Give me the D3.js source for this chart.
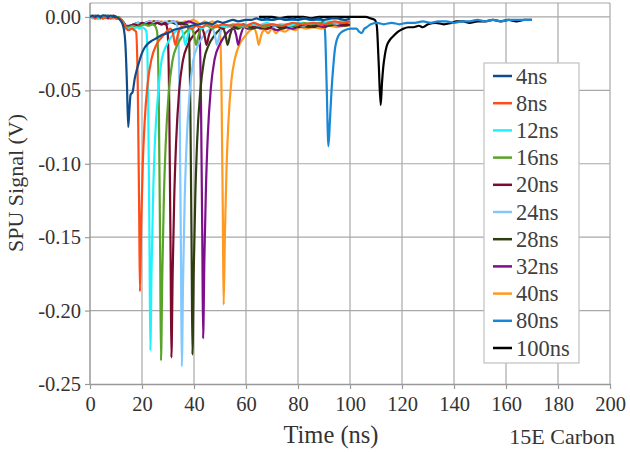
<!DOCTYPE html>
<html>
<head>
<meta charset="utf-8">
<script src="https://cdn.jsdelivr.net/npm/d3@7"></script>
<style>
  html, body { margin: 0; padding: 0; background: #fff; }
  svg { display: block; font-family: "Liberation Serif", "Times New Roman", serif; }
</style>
</head>
<body>
<svg id="chart" width="630" height="452"></svg>
<script>
// ── Data (time in ns, signal in V) ─────────────────────────────────────────
const seriesNames = ['4ns', '8ns', '12ns', '16ns', '20ns', '24ns', '28ns', '32ns', '40ns', '80ns', '100ns'];

const xTicks = [0, 20, 40, 60, 80, 100, 120, 140, 160, 180, 200];
const yTicks = [0, -0.05, -0.10, -0.15, -0.20, -0.25];

const s4 = [[0,0.000],[1,0.001],[2,0.000],[3,0.001],[4,0.000],[5,0.001],[6,0.001],[7,0.000],[8,0.001],[9,0.000],[10,0.000],[11,-0.001],[12,-0.003],[13,-0.008],[13.6,-0.018],[14.2,-0.045],[14.7,-0.075],[15.2,-0.062],[15.6,-0.053],[16.4,-0.051],[17.2,-0.042],[18,-0.036],[19,-0.030],[19.9,-0.025],[21,-0.021],[22.4,-0.018],[24,-0.016],[26,-0.014],[28,-0.012],[30,-0.011],[32,-0.009],[34,-0.008],[36.5,-0.007],[39,-0.006],[42,-0.005],[45,-0.004],[47,-0.005],[49,-0.003],[51,-0.004],[53,-0.003],[55,-0.002],[57,-0.003],[60,-0.002],[62,-0.002],[64,-0.001],[66,-0.002],[68,-0.001],[70,-0.002],[73,-0.001],[75,-0.002],[78,-0.001],[80,-0.002],[83,-0.001],[85,-0.002],[88,-0.001],[90,-0.002],[93,-0.001],[95,-0.001],[98,-0.002],[100,-0.001]];

const s8 = [[0,0.000],[1,0.000],[2,-0.001],[3,0.000],[4,0.000],[5,-0.001],[6,0.000],[7,0.000],[8,-0.001],[9,0.000],[10,-0.001],[11,-0.001],[12,-0.002],[13,-0.005],[14,-0.008],[15,-0.009],[16,-0.008],[17,-0.009],[17.7,-0.010],[18.4,-0.050],[18.9,-0.130],[19.2,-0.187],[19.7,-0.140],[20.3,-0.100],[21.0,-0.072],[22.2,-0.045],[23.6,-0.029],[25.5,-0.019],[27.5,-0.014],[29.5,-0.010],[31,-0.008],[32,-0.012],[32.8,-0.019],[33.8,-0.012],[35,-0.007],[37,-0.006],[39,-0.008],[41,-0.006],[43,-0.007],[45,-0.005],[48,-0.007],[51,-0.005],[54,-0.006],[57,-0.005],[60,-0.006],[63,-0.004],[66,-0.006],[70,-0.005],[74,-0.006],[78,-0.004],[82,-0.005],[86,-0.004],[90,-0.005],[94,-0.003],[97,-0.004],[100,-0.003]];

const s12 = [[0,0.000],[1,0.001],[2,0.000],[3,-0.001],[4,0.000],[5,0.000],[6,0.001],[7,0.000],[8,0.000],[9,-0.001],[10,0.000],[11,-0.001],[12,-0.002],[13,-0.005],[14,-0.008],[15,-0.008],[16,-0.007],[17,-0.008],[18,-0.007],[19,-0.008],[20,-0.007],[21,-0.008],[21.7,-0.010],[22.4,-0.061],[22.9,-0.159],[23.2,-0.227],[23.7,-0.170],[24.3,-0.120],[25.0,-0.084],[26.3,-0.050],[27.6,-0.029],[29.5,-0.019],[31.5,-0.013],[33.5,-0.009],[35.0,-0.008],[36.0,-0.013],[36.7,-0.019],[37.7,-0.012],[39.0,-0.007],[41,-0.006],[43,-0.008],[45,-0.005],[47,-0.007],[50,-0.006],[53,-0.007],[56,-0.005],[59,-0.006],[62,-0.005],[65,-0.006],[68,-0.004],[71,-0.006],[74,-0.005],[77,-0.006],[80,-0.004],[83,-0.005],[86,-0.004],[89,-0.005],[92,-0.003],[95,-0.004],[98,-0.003],[100,-0.004]];

const s16 = [[0,0.001],[1,0.000],[2,0.000],[3,0.001],[4,0.000],[5,-0.001],[6,0.000],[7,0.001],[8,0.000],[9,0.000],[10,-0.001],[11,0.000],[12,-0.002],[13,-0.004],[14,-0.007],[15,-0.007],[16.5,-0.006],[18,-0.007],[19.5,-0.006],[21,-0.005],[22.5,-0.006],[24,-0.005],[25.0,-0.006],[25.8,-0.010],[26.5,-0.063],[27.0,-0.164],[27.3,-0.234],[27.8,-0.176],[28.4,-0.124],[29.1,-0.087],[30.3,-0.051],[31.7,-0.030],[33.6,-0.019],[35.6,-0.013],[37.6,-0.009],[39.1,-0.008],[40.1,-0.013],[40.8,-0.019],[41.8,-0.012],[43.1,-0.007],[45,-0.006],[47,-0.008],[49,-0.006],[52,-0.007],[55,-0.005],[58,-0.007],[61,-0.006],[64,-0.005],[67,-0.007],[70,-0.005],[73,-0.006],[76,-0.005],[79,-0.006],[82,-0.004],[85,-0.005],[88,-0.004],[91,-0.005],[94,-0.004],[97,-0.003],[100,-0.004]];

const s20 = [[0,0.000],[1,0.000],[2,0.001],[3,0.000],[4,-0.001],[5,0.000],[6,0.000],[7,-0.001],[8,0.000],[9,0.001],[10,0.000],[11,-0.001],[12,-0.002],[13,-0.004],[14,-0.007],[15.5,-0.006],[17,-0.005],[18.5,-0.006],[20,-0.004],[21.5,-0.005],[23,-0.004],[24.5,-0.005],[26,-0.004],[27.5,-0.005],[29,-0.004],[29.8,-0.009],[30.5,-0.063],[31.0,-0.162],[31.3,-0.232],[31.8,-0.174],[32.4,-0.123],[33.1,-0.086],[34.3,-0.050],[35.7,-0.030],[37.6,-0.019],[39.6,-0.013],[41.6,-0.009],[43.1,-0.008],[44.1,-0.013],[44.8,-0.019],[45.8,-0.012],[47.1,-0.007],[49,-0.006],[51,-0.008],[53,-0.006],[56,-0.007],[59,-0.005],[62,-0.007],[65,-0.006],[68,-0.008],[71,-0.006],[74,-0.007],[77,-0.005],[80,-0.006],[83,-0.005],[86,-0.006],[89,-0.004],[92,-0.005],[95,-0.004],[98,-0.005],[100,-0.004]];

const s24 = [[0,0.000],[1,-0.001],[2,0.000],[3,0.000],[4,0.001],[5,0.000],[6,-0.001],[7,0.000],[8,0.000],[9,0.000],[10,-0.001],[11,-0.001],[12,-0.003],[13,-0.005],[14,-0.007],[15.5,-0.006],[17,-0.005],[18.5,-0.004],[20,-0.005],[21.5,-0.004],[23,-0.003],[24.5,-0.004],[26,-0.003],[27.5,-0.004],[29,-0.003],[30.5,-0.004],[32,-0.003],[33.0,-0.004],[33.8,-0.008],[34.5,-0.064],[35.0,-0.167],[35.3,-0.238],[35.8,-0.179],[36.4,-0.126],[37.1,-0.088],[38.3,-0.052],[39.7,-0.030],[41.6,-0.019],[43.6,-0.013],[45.6,-0.009],[47.1,-0.008],[48.1,-0.013],[48.8,-0.019],[49.8,-0.012],[51.1,-0.007],[53,-0.006],[55,-0.007],[58,-0.005],[61,-0.007],[64,-0.006],[67,-0.005],[70,-0.007],[73,-0.005],[76,-0.006],[79,-0.005],[82,-0.006],[85,-0.004],[88,-0.005],[91,-0.004],[94,-0.005],[97,-0.004],[100,-0.003]];

const s28 = [[0,0.000],[1,0.000],[2,-0.001],[3,0.000],[4,0.000],[5,0.001],[6,0.000],[7,0.000],[8,-0.001],[9,0.000],[10,0.000],[11,-0.001],[12,-0.002],[13,-0.005],[14,-0.007],[15.5,-0.006],[17,-0.005],[18.5,-0.004],[20,-0.005],[21.5,-0.004],[23,-0.005],[24.5,-0.003],[26,-0.004],[27.5,-0.005],[29,-0.004],[30.5,-0.003],[32,-0.004],[33.5,-0.005],[35,-0.004],[36.5,-0.005],[37.2,-0.005],[37.9,-0.008],[38.6,-0.062],[39.1,-0.161],[39.4,-0.230],[39.9,-0.173],[40.5,-0.122],[41.2,-0.085],[42.4,-0.051],[43.8,-0.030],[45.7,-0.019],[47.7,-0.013],[49.7,-0.009],[51.2,-0.008],[52.2,-0.013],[52.9,-0.019],[53.9,-0.012],[55.2,-0.007],[57,-0.008],[59,-0.006],[62,-0.008],[65,-0.007],[68,-0.008],[71,-0.006],[74,-0.008],[77,-0.006],[80,-0.007],[83,-0.006],[86,-0.007],[89,-0.005],[92,-0.006],[95,-0.005],[98,-0.006],[100,-0.005]];

const s32 = [[0,0.000],[1,0.000],[2,0.000],[3,-0.001],[4,0.000],[5,0.000],[6,0.000],[7,0.001],[8,0.000],[9,-0.001],[10,0.000],[11,-0.001],[12,-0.002],[13,-0.004],[14,-0.006],[15.5,-0.006],[17,-0.005],[18.5,-0.004],[20,-0.005],[21.5,-0.004],[23,-0.003],[24.5,-0.004],[26,-0.003],[27.5,-0.004],[29,-0.005],[30.5,-0.004],[32,-0.003],[33.5,-0.004],[35,-0.005],[36.5,-0.004],[38,-0.003],[39.5,-0.004],[41,-0.005],[42.0,-0.008],[42.7,-0.059],[43.2,-0.153],[43.5,-0.219],[44.0,-0.164],[44.6,-0.116],[45.3,-0.081],[46.5,-0.048],[47.9,-0.029],[49.8,-0.019],[51.8,-0.013],[53.8,-0.009],[55.3,-0.008],[56.3,-0.013],[57.0,-0.019],[58.0,-0.012],[59.3,-0.007],[61,-0.008],[63,-0.006],[66,-0.008],[69,-0.007],[72,-0.009],[75,-0.007],[78,-0.008],[81,-0.006],[84,-0.007],[87,-0.006],[90,-0.007],[93,-0.005],[96,-0.006],[100,-0.005]];

const s40 = [[0,0.000],[1,-0.001],[2,0.000],[3,0.000],[4,0.000],[5,-0.001],[6,0.000],[7,0.000],[8,0.000],[9,0.000],[10,-0.001],[11,-0.001],[12,-0.003],[13,-0.005],[14,-0.007],[15.5,-0.006],[17,-0.005],[18.5,-0.006],[20,-0.004],[21.5,-0.005],[23,-0.004],[24.5,-0.003],[26,-0.004],[27.5,-0.003],[29,-0.004],[30.5,-0.003],[32,-0.004],[33.5,-0.003],[35,-0.004],[36.5,-0.003],[38,-0.004],[39.5,-0.002],[41,-0.003],[42.5,-0.005],[44,-0.003],[45.5,-0.004],[47,-0.003],[48.5,-0.005],[49.9,-0.008],[50.6,-0.053],[51.1,-0.137],[51.4,-0.196],[51.9,-0.147],[52.5,-0.104],[53.2,-0.073],[54.4,-0.043],[55.8,-0.028],[57.7,-0.018],[59.7,-0.013],[61.7,-0.009],[63.2,-0.008],[64.2,-0.013],[64.9,-0.019],[65.9,-0.012],[67.2,-0.009],[68.5,-0.011],[70,-0.008],[71.5,-0.011],[73,-0.009],[75,-0.010],[77,-0.008],[79,-0.009],[81,-0.007],[83,-0.008],[86,-0.007],[89,-0.008],[92,-0.006],[95,-0.007],[98,-0.006],[100,-0.006]];

const s80 = [[65,-0.001],[67,-0.002],[70,-0.002],[73,-0.001],[76,-0.002],[79,-0.002],[82,-0.001],[85,-0.002],[88,-0.002],[89.8,-0.003],[90.4,-0.010],[91.0,-0.045],[91.7,-0.088],[92.3,-0.070],[92.9,-0.050],[93.6,-0.033],[94.2,-0.022],[95.5,-0.013],[97,-0.010],[98,-0.009],[100.6,-0.008],[102.5,-0.008],[103.5,-0.010],[104.5,-0.011],[105.5,-0.008],[106.4,-0.007],[108,-0.005],[110.3,-0.004],[113,-0.005],[116,-0.004],[119,-0.005],[122,-0.004],[125,-0.004],[128,-0.003],[131,-0.004],[134,-0.003],[137,-0.003],[140,-0.004],[143,-0.003],[146,-0.003],[149,-0.002],[152,-0.003],[155,-0.002],[158,-0.003],[161,-0.002],[164,-0.002],[167,-0.002],[170,-0.002]];

const s100 = [[65,0.000],[67,0.000],[70,0.000],[73,-0.001],[76,0.000],[79,0.000],[82,0.000],[85,-0.001],[88,0.000],[91,0.000],[94,0.000],[97,0.000],[100,0.000],[103,0.000],[106,0.000],[108,-0.001],[109.5,-0.002],[110.3,-0.006],[111.0,-0.030],[111.8,-0.060],[112.3,-0.045],[112.8,-0.034],[113.4,-0.026],[114.1,-0.020],[115.2,-0.016],[116.7,-0.013],[118.5,-0.010],[120.5,-0.008],[122.5,-0.007],[124.4,-0.007],[126.5,-0.006],[128,-0.007],[130,-0.005],[133,-0.004],[136,-0.005],[139,-0.004],[141,-0.003],[143.5,-0.003],[146,-0.004],[149,-0.003],[152,-0.003],[155,-0.002],[158,-0.003],[161,-0.002],[164,-0.003],[167,-0.002],[170,-0.002]];

const seriesValues = [s4, s8, s12, s16, s20, s24, s28, s32, s40, s80, s100];

// styles kept apart from the data
const seriesColors = ['#0e4d8c', '#ff4d1a', '#1ff2ff', '#5aa32a', '#7a0c2e', '#80c8ff', '#2f3e10', '#7d0f8c', '#ff9a1e', '#1a87d6', '#000000'];

// ── Layout ─────────────────────────────────────────────────────────────────
const svg = d3.select('#chart');
const M = { left: 90, top: 3, right: 20, bottom: 68 };
const W = 630 - M.left - M.right;   // 520
const H = 452 - M.top - M.bottom;   // 381

const x = d3.scaleLinear().domain([0, 200]).range([M.left, M.left + W]);
const y = d3.scaleLinear().domain([-0.25, 0.0095]).range([M.top + H, M.top]);

const GRID = '#a8a8a8';
const TEXT = '#333';
const FONT = '"Liberation Serif", "Times New Roman", serif';

// grid
const grid = svg.append('g');
grid.selectAll('line.vg').data(xTicks.slice(1)).join('line')
  .attr('x1', d => x(d)).attr('x2', d => x(d))
  .attr('y1', M.top).attr('y2', M.top + H)
  .attr('stroke', GRID).attr('stroke-width', 1.2);
grid.selectAll('line.hg').data(yTicks.slice(0, -1)).join('line')
  .attr('x1', M.left).attr('x2', M.left + W)
  .attr('y1', d => y(d)).attr('y2', d => y(d))
  .attr('stroke', GRID).attr('stroke-width', 1.2);
grid.append('line')   // top border
  .attr('x1', M.left).attr('x2', M.left + W)
  .attr('y1', M.top).attr('y2', M.top)
  .attr('stroke', GRID).attr('stroke-width', 1.2);

// axes
const xAxis = svg.append('g')
  .attr('transform', `translate(0,${M.top + H})`)
  .call(d3.axisBottom(x).tickValues(xTicks).tickSize(5).tickSizeOuter(0).tickPadding(7).tickFormat(d3.format('d')));
const yAxis = svg.append('g')
  .attr('transform', `translate(${M.left},0)`)
  .call(d3.axisLeft(y).tickValues(yTicks).tickSize(5).tickSizeOuter(0).tickPadding(4).tickFormat(d3.format('.2f')));

[xAxis, yAxis].forEach(ax => {
  ax.attr('font-family', FONT);
  ax.select('.domain').attr('stroke', '#999').attr('stroke-width', 1.5);
  ax.selectAll('.tick line').attr('stroke', '#999').attr('stroke-width', 1.2);
  ax.selectAll('.tick text')
    .attr('fill', TEXT)
    .style('font-family', FONT)
    .style('font-size', '20.5px');
});
yAxis.selectAll('.tick text').text(d => d3.format('.2f')(d).replace('−', '-'));
yAxis.select('.domain').attr('d', `M0,${M.top}V${M.top + H}`);

// ── Lines ─────────────────────────────────────────────────────────────────
svg.append('defs').append('clipPath').attr('id', 'plot-clip')
  .append('rect').attr('x', M.left).attr('y', M.top).attr('width', W).attr('height', H);

const line = d3.line()
  .x(d => x(d[0]))
  .y(d => y(d[1]))
  .curve(d3.curveMonotoneX);

const linesG = svg.append('g').attr('clip-path', 'url(#plot-clip)');
const order = d3.range(seriesValues.length).reverse();
linesG.selectAll('path').data(order).join('path')
  .attr('d', i => line(seriesValues[i]))
  .attr('fill', 'none')
  .attr('stroke', i => seriesColors[i])
  .attr('stroke-width', 2.2)
  .attr('stroke-linejoin', 'round');

// ── Legend ─────────────────────────────────────────────────────────────────
const legend = svg.append('g').attr('transform', 'translate(484,63)');
legend.append('rect')
  .attr('width', 95).attr('height', 300)
  .attr('fill', '#fff').attr('stroke', '#c0c0c0').attr('stroke-width', 1.2);
const item = legend.selectAll('g.item').data(seriesNames).join('g')
  .attr('transform', (d, i) => `translate(0,${13 + i * 27.2})`);
item.append('line')
  .attr('x1', 9).attr('x2', 28).attr('y1', 0).attr('y2', 0)
  .attr('stroke', (d, i) => seriesColors[i]).attr('stroke-width', 2.5);
item.append('text')
  .attr('x', 32).attr('y', 7.5)
  .attr('fill', '#404040')
  .style('font-family', FONT)
  .style('font-size', '22.5px')
  .text(d => d);

// ── Titles ─────────────────────────────────────────────────────────────────
svg.append('text')
  .attr('transform', `translate(23,${M.top + 180}) rotate(-90)`)
  .attr('text-anchor', 'middle')
  .attr('fill', TEXT)
  .style('font-family', FONT)
  .style('font-size', '22px')
  .text('SPU Signal (V)');

svg.append('text')
  .attr('x', 331).attr('y', 443)
  .attr('text-anchor', 'middle')
  .attr('fill', TEXT)
  .style('font-family', FONT)
  .style('font-size', '24.5px')
  .text('Time (ns)');

svg.append('text')
  .attr('x', 615).attr('y', 444)
  .attr('text-anchor', 'end')
  .attr('fill', TEXT)
  .style('font-family', FONT)
  .style('font-size', '22px')
  .text('15E Carbon');
</script>
</body>
</html>
